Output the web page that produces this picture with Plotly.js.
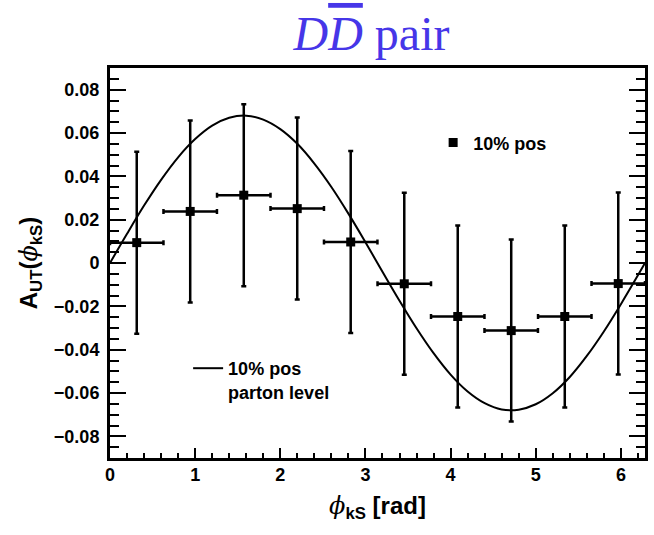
<!DOCTYPE html>
<html>
<head>
<meta charset="utf-8">
<script src="https://cdn.plot.ly/plotly-3.0.1.min.js"></script>
<style>
  html, body { margin: 0; padding: 0; background: #fff; }
  #chart { width: 654px; height: 535px; }
</style>
</head>
<body>
<div id="chart"></div>
<script>
// Binned asymmetry, 10 bins in phi_kS
const binCenters = [0.314, 0.942, 1.571, 2.199, 2.827, 3.456, 4.084, 4.712, 5.341, 5.969];
const binHalfWidth = [0.314, 0.314, 0.314, 0.314, 0.314, 0.314, 0.314, 0.314, 0.314, 0.314];
const asymValues = [0.0094, 0.0238, 0.0313, 0.0251, 0.0097, -0.0096, -0.0247, -0.0312, -0.0247, -0.0095];
const asymErrors = [0.042, 0.042, 0.042, 0.042, 0.042, 0.042, 0.042, 0.042, 0.042, 0.042];

// Parton-level curve, sampled along phi_kS
const curveX = [0, 0.2, 0.4, 0.6, 0.8, 1.0, 1.2, 1.4, 1.6, 1.8, 2.0, 2.2, 2.4, 2.6, 2.8, 3.0,
                3.2, 3.4, 3.6, 3.8, 4.0, 4.2, 4.4, 4.6, 4.8, 5.0, 5.2, 5.4, 5.6, 5.8, 6.0, 6.2, 6.2832];
const curveY = [0, 0.0135, 0.0265, 0.0384, 0.0488, 0.0572, 0.0634, 0.0670, 0.0680, 0.0662, 0.0618,
                0.0550, 0.0459, 0.0351, 0.0228, 0.0096, -0.0040, -0.0174, -0.0301, -0.0416, -0.0515,
                -0.0593, -0.0647, -0.0676, -0.0677, -0.0652, -0.0601, -0.0526, -0.0429, -0.0316,
                -0.0190, -0.0057, 0];

const xTickVals = [0, 1, 2, 3, 4, 5, 6];
const yTickVals = [-0.08, -0.06, -0.04, -0.02, 0, 0.02, 0.04, 0.06, 0.08];

const sans = 'Liberation Sans, Arial, sans-serif';

const traces = [
  {
    x: curveX, y: curveY,
    type: 'scatter', mode: 'lines',
    line: { color: '#000', width: 2, shape: 'spline' },
    name: '<b>10% pos<br>parton level</b>',
    legend: 'legend2',
    hoverinfo: 'skip'
  },
  {
    x: binCenters, y: asymValues,
    type: 'scatter', mode: 'markers',
    marker: { symbol: 'square', size: 9, color: '#000' },
    error_y: { type: 'data', array: asymErrors, visible: true, color: '#000', thickness: 2.5, width: 2.5 },
    error_x: { type: 'data', array: binHalfWidth, visible: true, color: '#000', thickness: 2.5, width: 2.5 },
    name: '<b>10% pos</b>',
    legend: 'legend'
  }
];

const layout = {
  width: 654, height: 535,
  margin: { l: 110, r: 9, t: 68, b: 77 },
  paper_bgcolor: '#fff', plot_bgcolor: '#fff',
  showlegend: true,
  title: {
    text: '<i>D</i><span style="text-decoration:overline"><i>D</i></span> pair',
    font: { family: 'Liberation Serif, Times New Roman, serif', size: 48, color: '#4636e8' },
    xref: 'container', x: 0.568, xanchor: 'center',
    yref: 'container', y: 0.938, yanchor: 'middle'
  },
  xaxis: {
    range: [0, 6.2832],
    tickvals: xTickVals,
    ticks: 'inside', ticklen: 10, tickwidth: 2, tickcolor: '#000',
    minor: { dtick: 0.2, ticks: 'inside', ticklen: 5, tickwidth: 2, tickcolor: '#000' },
    showline: true, linecolor: '#000', linewidth: 3, mirror: true,
    showgrid: false, zeroline: false,
    tickfont: { family: sans, size: 18, color: '#000', weight: 'bold' },
    ticklabelstandoff: -2,
    title: {
      text: '<b><span style="font-family:DejaVu Serif;font-weight:normal"><i>ϕ</i></span><sub>kS</sub> [rad]</b>',
      font: { family: sans, size: 24, color: '#000' },
      standoff: 14
    }
  },
  yaxis: {
    range: [-0.09, 0.09],
    tickvals: yTickVals,
    ticks: 'inside', ticklen: 16, tickwidth: 2, tickcolor: '#000',
    minor: { dtick: 0.005, ticks: 'inside', ticklen: 9, tickwidth: 2, tickcolor: '#000' },
    showline: true, linecolor: '#000', linewidth: 3, mirror: 'ticks',
    showgrid: false, zeroline: false,
    tickfont: { family: sans, size: 18, color: '#000', weight: 'bold' },
    ticklabelstandoff: 4,
    title: {
      text: '<b>A<sub>UT</sub>(<span style="font-family:DejaVu Serif;font-weight:normal"><i>ϕ</i></span><sub>kS</sub>)</b>',
      font: { family: sans, size: 24, color: '#000' },
      standoff: 10
    }
  },
  legend: {
    x: 0.604, xanchor: 'left', y: 0.808, yanchor: 'middle',
    bgcolor: 'rgba(0,0,0,0)', borderwidth: 0,
    font: { family: sans, size: 18, color: '#000' }
  },
  legend2: {
    x: 0.146, xanchor: 'left', y: 0.2, yanchor: 'middle',
    bgcolor: 'rgba(0,0,0,0)', borderwidth: 0, valign: 'top',
    font: { family: sans, size: 18, color: '#000' }
  }
};

Plotly.newPlot('chart', traces, layout, { displayModeBar: false, staticPlot: true });
</script>
</body>
</html>
